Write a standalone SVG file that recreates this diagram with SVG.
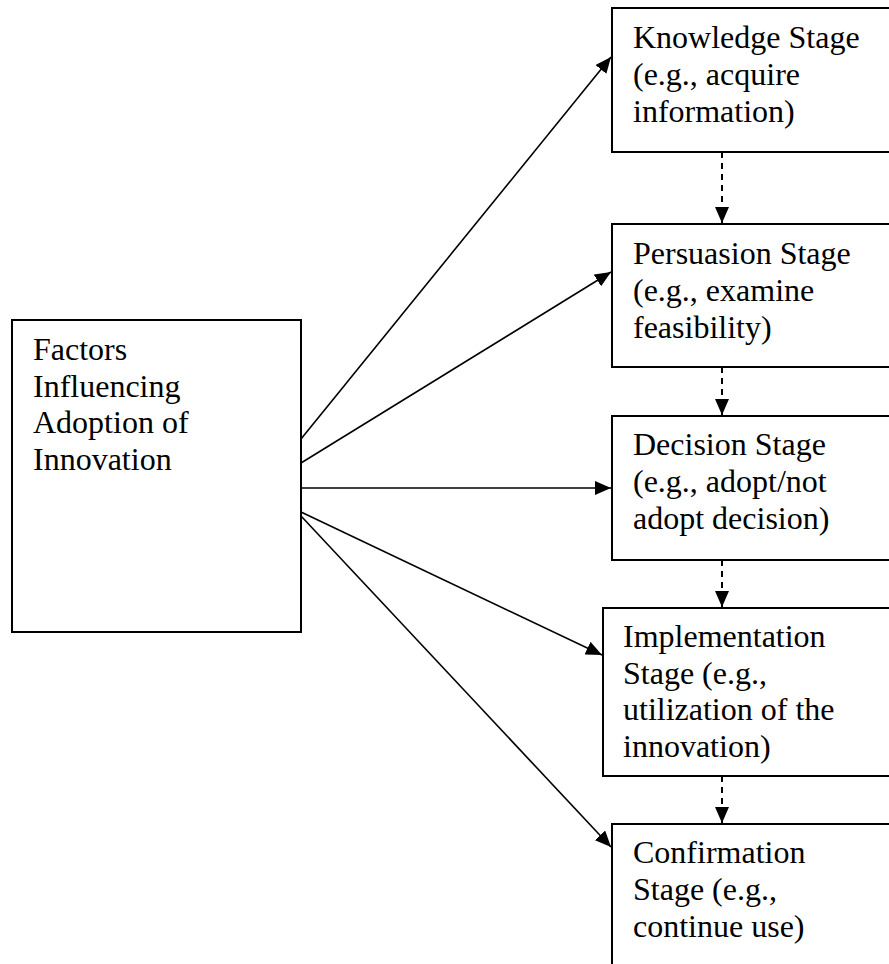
<svg xmlns="http://www.w3.org/2000/svg" width="889" height="964" viewBox="0 0 889 964">
  <style>
    .box { fill: #ffffff; stroke: #000000; stroke-width: 2; }
    .label { font-size: 32px; fill: #000000; }
    .link { fill: none; stroke: #000000; stroke-width: 1.6; }
    .dash { fill: none; stroke: #000000; stroke-width: 2; stroke-dasharray: 6 5; }
  </style>
  <defs>
    <marker id="head" markerUnits="userSpaceOnUse" markerWidth="16" markerHeight="14" refX="16" refY="7" orient="auto">
      <path d="M0,0 L16,7 L0,14 z" fill="#000000"/>
    </marker>
  </defs>

  <rect width="889" height="964" fill="#ffffff"/>

  <g font-family="Liberation Serif, DejaVu Serif, serif">
  <g id="factors">
    <rect class="box" x="12" y="320" width="289" height="312"/>
    <text class="label" x="33" y="360">Factors</text>
    <text class="label" x="33" y="397">Influencing</text>
    <text class="label" x="33" y="433">Adoption of</text>
    <text class="label" x="33" y="470">Innovation</text>
  </g>

  <g id="knowledge">
    <rect class="box" x="612" y="8" width="300" height="144"/>
    <text class="label" x="633" y="48">Knowledge Stage</text>
    <text class="label" x="633" y="85">(e.g., acquire</text>
    <text class="label" x="633" y="122">information)</text>
  </g>

  <g id="persuasion">
    <rect class="box" x="612" y="224" width="300" height="143"/>
    <text class="label" x="633" y="264">Persuasion Stage</text>
    <text class="label" x="633" y="301">(e.g., examine</text>
    <text class="label" x="633" y="338">feasibility)</text>
  </g>

  <g id="decision">
    <rect class="box" x="612" y="416" width="300" height="144"/>
    <text class="label" x="633" y="455">Decision Stage</text>
    <text class="label" x="633" y="492">(e.g., adopt/not</text>
    <text class="label" x="633" y="529">adopt decision)</text>
  </g>

  <g id="implementation">
    <rect class="box" x="603" y="608" width="310" height="168"/>
    <text class="label" x="623" y="647">Implementation</text>
    <text class="label" x="623" y="684">Stage (e.g.,</text>
    <text class="label" x="623" y="720">utilization of the</text>
    <text class="label" x="623" y="757">innovation)</text>
  </g>

  <g id="confirmation">
    <rect class="box" x="612" y="824" width="300" height="160"/>
    <text class="label" x="633" y="863">Confirmation</text>
    <text class="label" x="633" y="900">Stage (e.g.,</text>
    <text class="label" x="633" y="937">continue use)</text>
  </g>
  </g>

  <g id="connectors">
    <line class="link" x1="301" y1="439" x2="611" y2="57" marker-end="url(#head)"/>
    <line class="link" x1="301" y1="463" x2="611" y2="272" marker-end="url(#head)"/>
    <line class="link" x1="301" y1="488" x2="611" y2="488" marker-end="url(#head)"/>
    <line class="link" x1="301" y1="512" x2="602" y2="655" marker-end="url(#head)"/>
    <line class="link" x1="301" y1="516" x2="611" y2="847" marker-end="url(#head)"/>

    <line class="dash" x1="722" y1="152" x2="722" y2="223" marker-end="url(#head)"/>
    <line class="dash" x1="722" y1="367" x2="722" y2="415" marker-end="url(#head)"/>
    <line class="dash" x1="722" y1="560" x2="722" y2="607" marker-end="url(#head)"/>
    <line class="dash" x1="722" y1="776" x2="722" y2="823" marker-end="url(#head)"/>
  </g>
</svg>
